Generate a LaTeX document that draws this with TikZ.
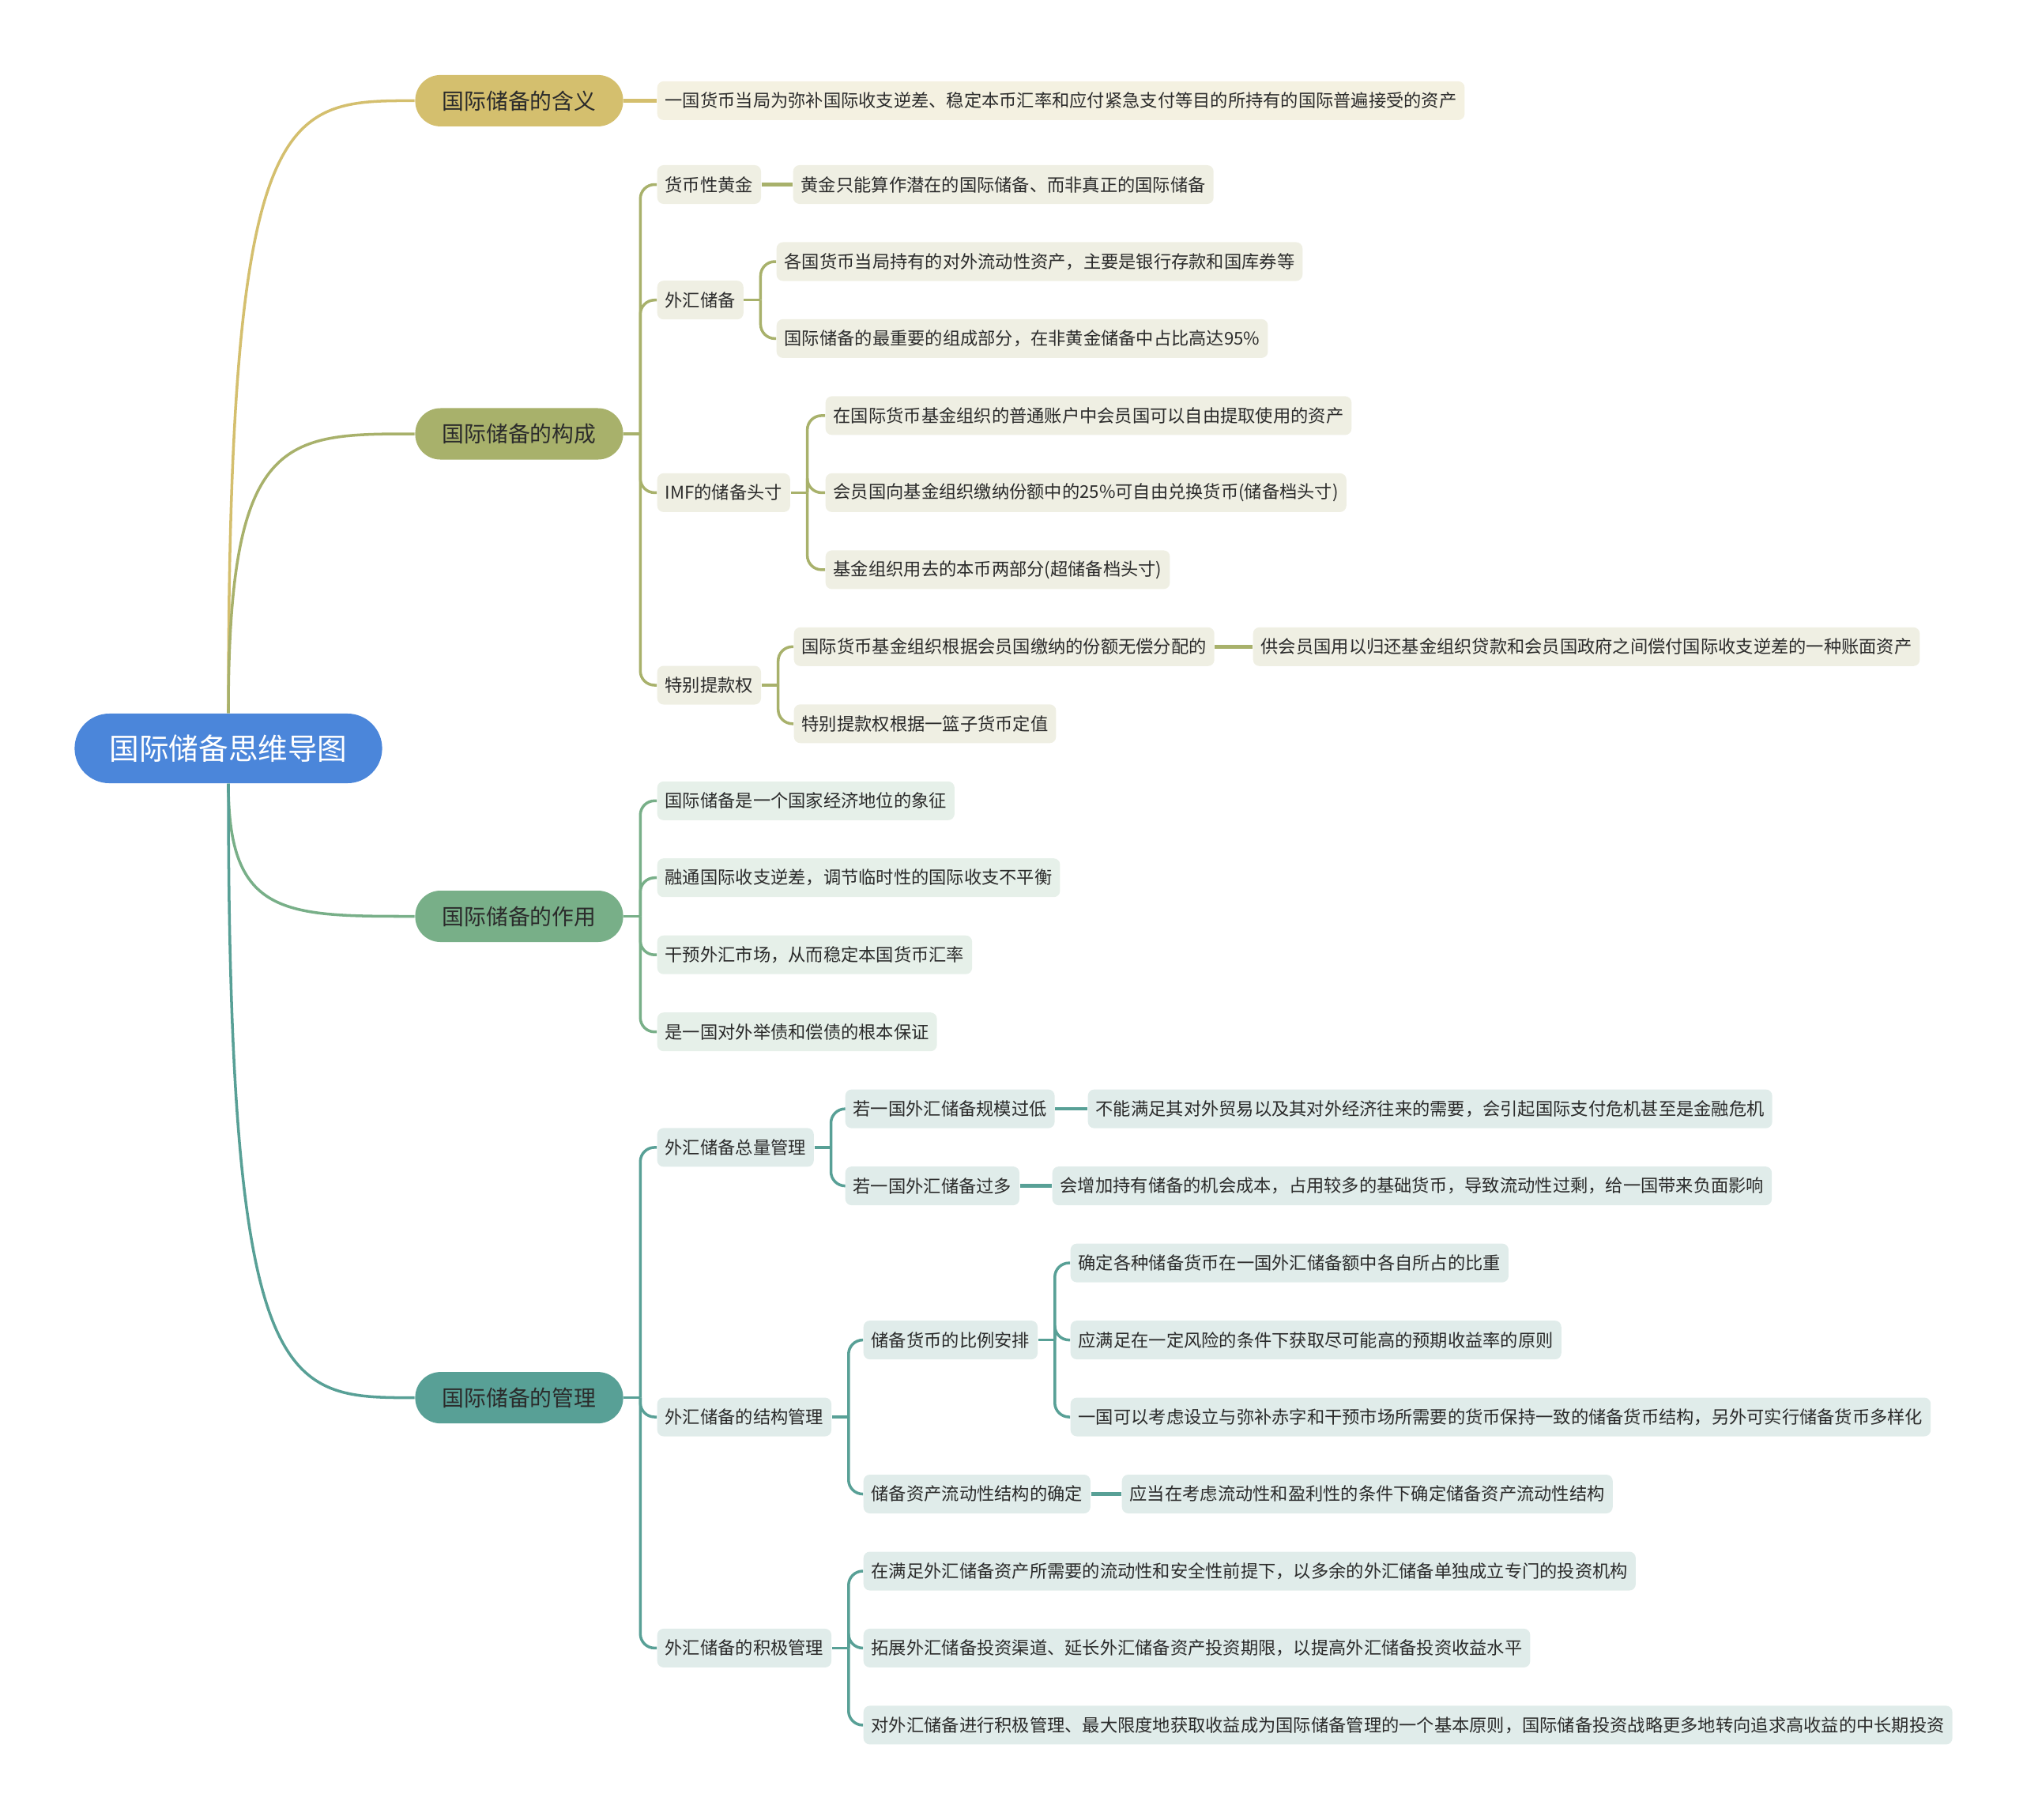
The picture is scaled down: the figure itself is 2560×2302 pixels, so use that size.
\documentclass[tikz,border=0pt]{standalone}
\usepackage{fontspec}
\setmainfont{Noto Sans CJK SC}
\usepackage{tikz}
\usetikzlibrary{calc}
\definecolor{RootBlue}{HTML}{4B86DA}
\definecolor{GoldTone}{HTML}{D4BF6E}
\definecolor{GoldPale}{HTML}{F4F1E1}
\definecolor{OliveTone}{HTML}{A8B16B}
\definecolor{OlivePale}{HTML}{EFEFE3}
\definecolor{GreenTone}{HTML}{78AF88}
\definecolor{GreenPale}{HTML}{E6F0E9}
\definecolor{TealTone}{HTML}{58A096}
\definecolor{TealPale}{HTML}{E0ECEA}
\definecolor{InkDark}{HTML}{2B2B2B}

\begin{document}
\begin{tikzpicture}[x=0.01cm, y=-0.01cm,
  rootbox/.style={fill=RootBlue, text=white, rounded corners=0.44cm,
              minimum width=3.89cm, minimum height=0.88cm,
              font=\fontsize{10.7}{13}\selectfont},
  topic/.style={rounded corners=0.32cm, minimum width=2.63cm,
              minimum height=0.65cm, text=InkDark,
              font=\fontsize{7.9}{10}\selectfont},
  leaf/.style={anchor=west, rounded corners=0.08cm, minimum height=0.49cm,
              inner xsep=0.1cm, text=InkDark,
              font=\fontsize{6.33}{8}\selectfont},
  goldleaf/.style={leaf, fill=GoldPale},
  oliveleaf/.style={leaf, fill=OlivePale},
  greenleaf/.style={leaf, fill=GreenPale},
  tealleaf/.style={leaf, fill=TealPale},
  goldline/.style={draw=GoldTone, line width=1pt},
  oliveline/.style={draw=OliveTone, line width=1pt},
  greenline/.style={draw=GreenTone, line width=1pt},
  tealline/.style={draw=TealTone, line width=1pt},
  link/.style={line width=1.3pt},
  fork/.style={rounded corners=0.18cm}
]
  \useasboundingbox (0,0) rectangle (2560,2302);

  % root and main topics
  \node[rootbox] (root) at (289,947) {国际储备思维导图};
  \node[topic, fill=GoldTone]  (mean) at (657,127.4)  {国际储备的含义};
  \node[topic, fill=OliveTone] (comp) at (657,549)    {国际储备的构成};
  \node[topic, fill=GreenTone] (func) at (657,1159.5) {国际储备的作用};
  \node[topic, fill=TealTone]  (mgmt) at (657,1768.6) {国际储备的管理};

  % meaning
  \node[goldleaf] (meandef) at (831,127.4) {一国货币当局为弥补国际收支逆差、稳定本币汇率和应付紧急支付等目的所持有的国际普遍接受的资产};

  % composition
  \node[oliveleaf] (gold)     at (831,233.5)  {货币性黄金};
  \node[oliveleaf] (goldnote) at (1003,233.5) {黄金只能算作潜在的国际储备、而非真正的国际储备};
  \node[oliveleaf] (fx)       at (831,379.7)  {外汇储备};
  \node[oliveleaf] (fxa)      at (982,331.0)  {各国货币当局持有的对外流动性资产，主要是银行存款和国库券等};
  \node[oliveleaf] (fxb)      at (982,428.4)  {国际储备的最重要的组成部分，在非黄金储备中占比高达95\%};
  \node[oliveleaf] (imf)      at (831,623.4)  {IMF的储备头寸};
  \node[oliveleaf] (imfa)     at (1044,525.9) {在国际货币基金组织的普通账户中会员国可以自由提取使用的资产};
  \node[oliveleaf] (imfb)     at (1044,623.4) {会员国向基金组织缴纳份额中的25\%可自由兑换货币(储备档头寸)};
  \node[oliveleaf] (imfc)     at (1044,720.9) {基金组织用去的本币两部分(超储备档头寸)};
  \node[oliveleaf] (sdr)      at (831,867.0)  {特别提款权};
  \node[oliveleaf] (sdra)     at (1004,818.3) {国际货币基金组织根据会员国缴纳的份额无偿分配的};
  \node[oliveleaf] (sdrnote)  at (1585,818.3) {供会员国用以归还基金组织贷款和会员国政府之间偿付国际收支逆差的一种账面资产};
  \node[oliveleaf] (sdrb)     at (1004,915.8) {特别提款权根据一篮子货币定值};

  % functions
  \node[greenleaf] (role1) at (831,1013.3) {国际储备是一个国家经济地位的象征};
  \node[greenleaf] (role2) at (831,1110.7) {融通国际收支逆差，调节临时性的国际收支不平衡};
  \node[greenleaf] (role3) at (831,1208.2) {干预外汇市场，从而稳定本国货币汇率};
  \node[greenleaf] (role4) at (831,1305.7) {是一国对外举债和偿债的根本保证};

  % management
  \node[tealleaf] (total)    at (831,1451.9)  {外汇储备总量管理};
  \node[tealleaf] (low)      at (1069,1403.1) {若一国外汇储备规模过低};
  \node[tealleaf] (lownote)  at (1376,1403.1) {不能满足其对外贸易以及其对外经济往来的需要，会引起国际支付危机甚至是金融危机};
  \node[tealleaf] (high)     at (1069,1500.6) {若一国外汇储备过多};
  \node[tealleaf] (highnote) at (1331,1500.6) {会增加持有储备的机会成本，占用较多的基础货币，导致流动性过剩，给一国带来负面影响};
  \node[tealleaf] (struct)   at (831,1793.0)  {外汇储备的结构管理};
  \node[tealleaf] (ratio)    at (1092,1695.6) {储备货币的比例安排};
  \node[tealleaf] (ratioa)   at (1354,1598.1) {确定各种储备货币在一国外汇储备额中各自所占的比重};
  \node[tealleaf] (ratiob)   at (1354,1695.6) {应满足在一定风险的条件下获取尽可能高的预期收益率的原则};
  \node[tealleaf] (ratioc)   at (1354,1793.0) {一国可以考虑设立与弥补赤字和干预市场所需要的货币保持一致的储备货币结构，另外可实行储备货币多样化};
  \node[tealleaf] (liq)      at (1092,1890.5) {储备资产流动性结构的确定};
  \node[tealleaf] (liqnote)  at (1419,1890.5) {应当在考虑流动性和盈利性的条件下确定储备资产流动性结构};
  \node[tealleaf] (active)   at (831,2085.4)  {外汇储备的积极管理};
  \node[tealleaf] (acta)     at (1092,1988.0) {在满足外汇储备资产所需要的流动性和安全性前提下，以多余的外汇储备单独成立专门的投资机构};
  \node[tealleaf] (actb)     at (1092,2085.4) {拓展外汇储备投资渠道、延长外汇储备资产投资期限，以提高外汇储备投资收益水平};
  \node[tealleaf] (actc)     at (1092,2182.9) {对外汇储备进行积极管理、最大限度地获取收益成为国际储备管理的一个基本原则，国际储备投资战略更多地转向追求高收益的中长期投资};

  % root to topics
  \draw[goldline]  (root.north) .. controls (root.north |- mean.west)
    and ($(root.north |- mean.west)!0.3!(mean.west)$) .. (mean.west);
  \draw[oliveline] (root.north) .. controls (root.north |- comp.west)
    and ($(root.north |- comp.west)!0.3!(comp.west)$) .. (comp.west);
  \draw[greenline] (root.south) .. controls (root.south |- func.west)
    and ($(root.south |- func.west)!0.3!(func.west)$) .. (func.west);
  \draw[tealline]  (root.south) .. controls (root.south |- mgmt.west)
    and ($(root.south |- mgmt.west)!0.3!(mgmt.west)$) .. (mgmt.west);

  % straight links
  \draw[goldline, link]  (mean.east) -- (meandef.west);
  \draw[oliveline, link] (gold.east) -- (goldnote.west);
  \draw[oliveline, link] (sdra.east) -- (sdrnote.west);
  \draw[tealline, link]  (low.east) -- (lownote.west);
  \draw[tealline, link]  (high.east) -- (highnote.west);
  \draw[tealline, link]  (liq.east) -- (liqnote.west);

  % forks
  \draw[oliveline] (comp.east) -- ++(21,0);
  \foreach \c in {gold,fx,imf,sdr}
    \draw[oliveline, fork] (comp.east) ++(21,0) |- (\c.west);
  \draw[oliveline] (fx.east) -- ++(21,0);
  \foreach \c in {fxa,fxb}
    \draw[oliveline, fork] (fx.east) ++(21,0) |- (\c.west);
  \draw[oliveline] (imf.east) -- ++(21,0);
  \foreach \c in {imfa,imfb,imfc}
    \draw[oliveline, fork] (imf.east) ++(21,0) |- (\c.west);
  \draw[oliveline] (sdr.east) -- ++(21,0);
  \foreach \c in {sdra,sdrb}
    \draw[oliveline, fork] (sdr.east) ++(21,0) |- (\c.west);

  \draw[greenline] (func.east) -- ++(21,0);
  \foreach \c in {role1,role2,role3,role4}
    \draw[greenline, fork] (func.east) ++(21,0) |- (\c.west);

  \draw[tealline] (mgmt.east) -- ++(21,0);
  \foreach \c in {total,struct,active}
    \draw[tealline, fork] (mgmt.east) ++(21,0) |- (\c.west);
  \draw[tealline] (total.east) -- ++(21,0);
  \foreach \c in {low,high}
    \draw[tealline, fork] (total.east) ++(21,0) |- (\c.west);
  \draw[tealline] (struct.east) -- ++(21,0);
  \foreach \c in {ratio,liq}
    \draw[tealline, fork] (struct.east) ++(21,0) |- (\c.west);
  \draw[tealline] (ratio.east) -- ++(21,0);
  \foreach \c in {ratioa,ratiob,ratioc}
    \draw[tealline, fork] (ratio.east) ++(21,0) |- (\c.west);
  \draw[tealline] (active.east) -- ++(21,0);
  \foreach \c in {acta,actb,actc}
    \draw[tealline, fork] (active.east) ++(21,0) |- (\c.west);
\end{tikzpicture}
\end{document}
